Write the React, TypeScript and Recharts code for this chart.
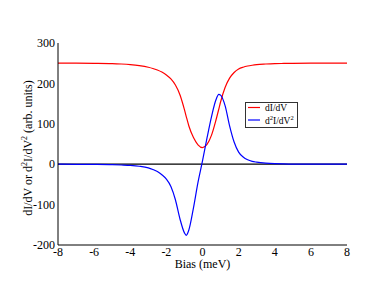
import React from 'react';
import { LineChart, Line, XAxis, YAxis, ReferenceLine, Legend } from 'recharts';

const BIAS = [-8, -7, -6, -5, -4.5, -4, -3.5, -3, -2.75, -2.5, -2.25, -2, -1.75, -1.5, -1.25, -1, -0.9, -0.75, -0.5, -0.25, 0, 0.25, 0.5, 0.75, 0.9, 1, 1.25, 1.5, 1.75, 2, 2.25, 2.5, 2.75, 3, 3.5, 4, 4.5, 5, 6, 7, 8];
const DIDV = [250, 250, 249.7, 249, 248, 246.5, 244, 240, 237, 233, 228, 221, 211, 196, 172, 135, 118, 94, 66, 48, 41, 49, 72, 110, 136, 154, 190, 213, 227, 235.5, 240, 243, 245, 246.5, 248, 249, 249.4, 249.7, 250, 250, 250];
const D2IDV2 = [0, -0.2, -0.5, -1.2, -2, -3, -5, -9, -13, -18, -26, -37, -55, -88, -135, -170, -176, -162, -108, -45, 8, 65, 118, 160, 173, 171, 145, 95, 55, 30, 18, 11, 7, 5, 2.5, 1.2, 0.6, 0.3, 0, 0, 0];

const X_TICKS = [-8, -6, -4, -2, 0, 2, 4, 6, 8];
const X_MINOR = [-7, -5, -3, -1, 1, 3, 5, 7];
const Y_TICKS = [-200, -100, 0, 100, 200, 300];
const Y_MINOR = [-150, -50, 50, 150, 250];

const TITLE = 'S = 2, D = 0.3 meV, B = 0, step width 1.0 meV';

const data = BIAS.map((b, i) => ({ bias: b, didv: DIDV[i], d2: D2IDV2[i] }));

const SERIF = 'Liberation Serif, DejaVu Serif, serif';
const tickFont = { fontSize: 12, fill: '#000', fontFamily: SERIF, style: { fontFamily: SERIF } };

const YLabel = (props: any) => {
  const vb = props.viewBox || { x: 8, y: 43, width: 50, height: 202 };
  const cx = vb.x + 24;
  const cy = vb.y + vb.height / 2 + 4;
  return (
    <text
      x={cx}
      y={cy}
      transform={`rotate(-90, ${cx}, ${cy})`}
      textAnchor="middle"
      fontSize={12}
      style={{ fontFamily: SERIF }}
      fill="#000"
    >
      dI/dV or d
      <tspan dy={-5} fontSize={8}>2</tspan>
      <tspan dy={5}>I/dV</tspan>
      <tspan dy={-5} fontSize={8}>2</tspan>
      <tspan dy={5}> (arb. units)</tspan>
    </text>
  );
};

const LegendBox = () => (
  <svg width={54} height={27} style={{ display: 'block', fontFamily: SERIF }}>
    <rect x={0.5} y={0.5} width={52} height={25} fill="#fff" stroke="#333" strokeWidth={1} />
    <line x1={3} x2={15} y1={5.5} y2={5.5} stroke="#ff0000" strokeWidth={1.2} />
    <text x={20} y={8.8} fontSize={9.5} fill="#000">dI/dV</text>
    <line x1={3} x2={15} y1={18} y2={18} stroke="#0000ff" strokeWidth={1.2} />
    <text x={20} y={21.8} fontSize={9.5} fill="#000">
      d<tspan dy={-4} fontSize={6.5}>2</tspan>
      <tspan dy={4}>I/dV</tspan>
      <tspan dy={-4} fontSize={6.5}>2</tspan>
    </text>
  </svg>
);

const App: React.FC = () => {
  return (
    <div style={{ position: 'absolute', left: 0, top: 0, width: 374, height: 289, background: '#fff', fontFamily: SERIF }}>
      <LineChart
        width={374}
        height={289}
        data={data}
        margin={{ top: 43, right: 27, bottom: 14, left: 8 }}
        style={{ fontFamily: SERIF }}
      >
        {/* labelled axes */}
        <XAxis
          xAxisId="x"
          dataKey="bias"
          type="number"
          domain={[-8, 8]}
          allowDataOverflow
          ticks={X_TICKS}
          tick={tickFont}
          tickLine={false}
          tickSize={0}
          tickMargin={2}
          height={30}
          axisLine={{ stroke: '#000' }}
          label={{ value: 'Bias (meV)', position: 'insideBottom', offset: 7, fontSize: 12, fill: '#000', style: { fontFamily: SERIF } }}
        />
        <YAxis
          yAxisId="y"
          type="number"
          domain={[-200, 300]}
          allowDataOverflow
          ticks={Y_TICKS}
          tick={tickFont}
          tickLine={false}
          tickSize={0}
          tickMargin={3}
          width={50}
          axisLine={{ stroke: '#000' }}
          label={{ content: YLabel }}
        />

        {/* inward tick marks, bottom / top */}
        <XAxis xAxisId="xb" type="number" domain={[-8, 8]} allowDataOverflow ticks={X_TICKS} mirror height={0} tick={false} tickSize={5} axisLine={false} tickLine={{ stroke: '#000' }} />
        <XAxis xAxisId="xbm" type="number" domain={[-8, 8]} allowDataOverflow ticks={X_MINOR} mirror height={0} tick={false} tickSize={3} axisLine={false} tickLine={{ stroke: '#000' }} />
        <XAxis xAxisId="xt" orientation="top" type="number" domain={[-8, 8]} allowDataOverflow ticks={X_TICKS} mirror height={0} tick={false} tickSize={5} axisLine={{ stroke: '#000' }} tickLine={{ stroke: '#000' }}
          label={{ value: TITLE, position: 'top', offset: 9, fontSize: 10.6, fill: '#000', style: { fontFamily: SERIF } }} />
        <XAxis xAxisId="xtm" orientation="top" type="number" domain={[-8, 8]} allowDataOverflow ticks={X_MINOR} mirror height={0} tick={false} tickSize={3} axisLine={false} tickLine={{ stroke: '#000' }} />

        {/* inward tick marks, left / right */}
        <YAxis yAxisId="yl" type="number" domain={[-200, 300]} allowDataOverflow ticks={Y_TICKS} mirror width={0} tick={false} tickSize={5} axisLine={false} tickLine={{ stroke: '#000' }} />
        <YAxis yAxisId="ylm" type="number" domain={[-200, 300]} allowDataOverflow ticks={Y_MINOR} mirror width={0} tick={false} tickSize={3} axisLine={false} tickLine={{ stroke: '#000' }} />
        <YAxis yAxisId="yr" orientation="right" type="number" domain={[-200, 300]} allowDataOverflow ticks={Y_TICKS} mirror width={0} tick={false} tickSize={5} axisLine={{ stroke: '#000' }} tickLine={{ stroke: '#000' }} />
        <YAxis yAxisId="yrm" orientation="right" type="number" domain={[-200, 300]} allowDataOverflow ticks={Y_MINOR} mirror width={0} tick={false} tickSize={3} axisLine={false} tickLine={{ stroke: '#000' }} />

        <ReferenceLine xAxisId="x" yAxisId="y" y={0} stroke="#000" strokeWidth={1.3} />

        <Line xAxisId="x" yAxisId="y" type="monotone" dataKey="didv" name="dI/dV" stroke="#ff0000" strokeWidth={1.2} dot={false} isAnimationActive={false} />
        <Line xAxisId="x" yAxisId="y" type="monotone" dataKey="d2" name="d2I/dV2" stroke="#0000ff" strokeWidth={1.2} dot={false} isAnimationActive={false} />

        <Legend
          layout="vertical"
          align="center"
          verticalAlign="middle"
          content={LegendBox}
          wrapperStyle={{ position: 'absolute', left: 245, top: 102, width: 54, height: 27 }}
        />
      </LineChart>
    </div>
  );
};

export default App;
